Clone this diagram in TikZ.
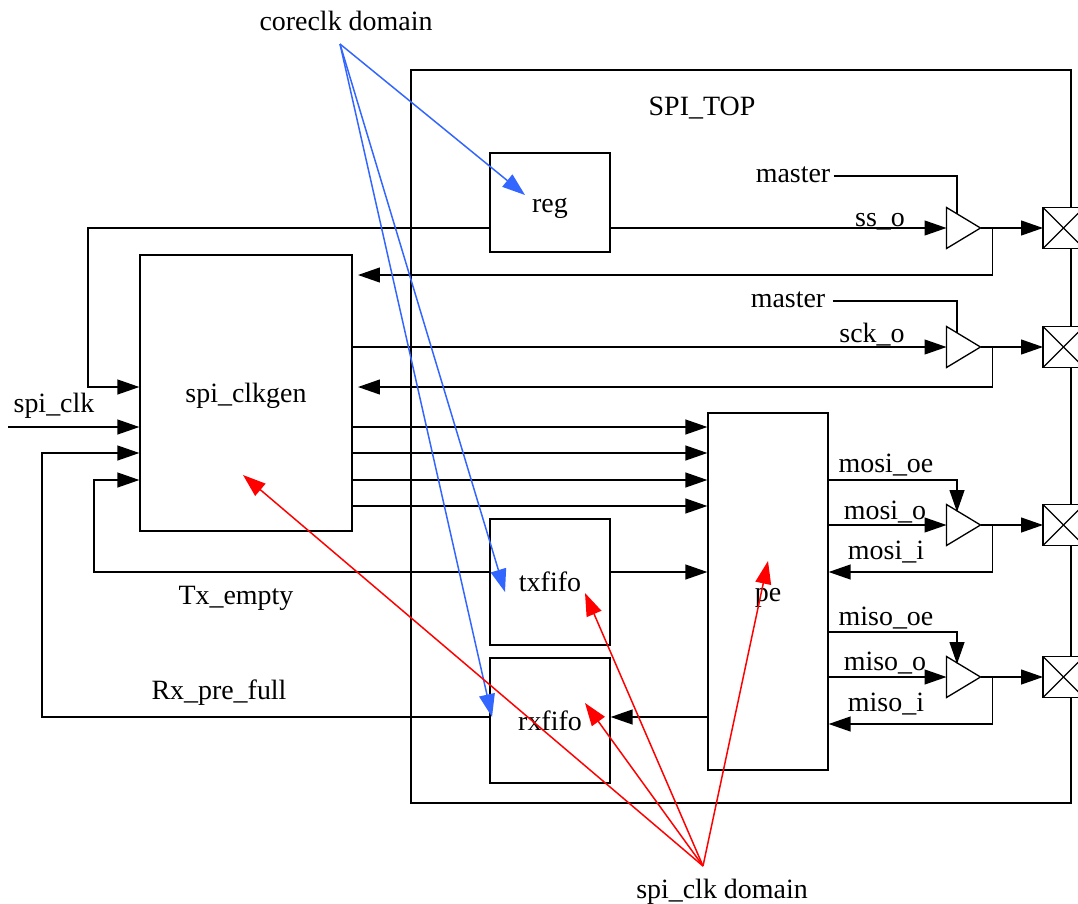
\documentclass[tikz,border=0pt]{standalone}
\usepackage{fontspec}
\setmainfont{Liberation Serif}
\usetikzlibrary{positioning}
\usetikzlibrary{arrows.meta}
\usetikzlibrary{shapes.geometric}

\def\unitpx{0.02cm}

\tikzset{
	blockbox/.style={draw, rectangle, inner sep=0pt, line width=0.75pt, font=\fontsize{15.9}{17}\selectfont, text height=12pt, text depth=0.8pt},
	bufbox/.style={draw, isosceles triangle, isosceles triangle stretches, shape border rotate=0, fill=white, inner sep=0pt, outer sep=0pt, line width=0.75pt, minimum width=41*\unitpx, minimum height=34*\unitpx, anchor=lower side},
	padbox/.style={draw, rectangle, fill=white, inner sep=0pt, outer sep=0pt, line width=0.75pt, minimum size=41*\unitpx, path picture={
		\draw[line width=0.75pt] (path picture bounding box.north west) -- (path picture bounding box.south east);
		\draw[line width=0.75pt] (path picture bounding box.south west) -- (path picture bounding box.north east);}},
	lbl/.style={font=\fontsize{15.9}{17}\selectfont, inner sep=0pt, text height=12pt, text depth=0.8pt},
	wire/.style={line width=0.75pt},
	sig/.style={line width=0.75pt, -{Triangle[length=12.5pt, width=8.5pt]}},
	coreclkline/.style={line width=0.85pt, color=coreblue, -{Triangle[length=13pt, width=9pt]}},
	spiclkline/.style={line width=0.85pt, color=red, -{Triangle[length=13pt, width=9pt]}}
}
\definecolor{coreblue}{HTML}{3366FF}

\begin{document}
\begin{tikzpicture}[x=0.02cm, y=-0.02cm]
	\useasboundingbox (0, 0) rectangle (1078, 903);
	\clip (0, 0) rectangle (1078, 903);

	\node[blockbox, minimum width=660*\unitpx, minimum height=733*\unitpx] (spitop) at (741, 436.5) {};
	\node[blockbox, minimum width=120*\unitpx, minimum height=99*\unitpx] (reg) at (550, 202.5) {reg};
	\node[blockbox, minimum width=212*\unitpx, minimum height=276*\unitpx] (clkgen) at (246, 393) {spi\_clkgen};
	\node[blockbox, minimum width=120*\unitpx, minimum height=357*\unitpx] (pe) at (768, 591.5) {pe};
	\node[blockbox, minimum width=120*\unitpx, minimum height=126*\unitpx] (txfifo) at (550, 582) {txfifo};
	\node[blockbox, minimum width=120*\unitpx, minimum height=125*\unitpx] (rxfifo) at (550, 720.5) {rxfifo};

	\node[bufbox] (ssbuf) at (946.5, 228) {};
	\node[bufbox] (sckbuf) at (946.5, 347) {};
	\node[bufbox] (mosibuf) at (946.5, 525) {};
	\node[bufbox] (misobuf) at (946.5, 677) {};

	\node[padbox] (sspad) at (1063.5, 228) {};
	\node[padbox] (sckpad) at (1063.5, 347) {};
	\node[padbox] (mosipad) at (1063.5, 525) {};
	\node[padbox] (misopad) at (1063.5, 677) {};

	\node[lbl] (sptitle) at (702, 106) {SPI\_TOP};
	\node[lbl] (ssmaster) at (793, 173) {master};
	\node[lbl] (sckmaster) at (788, 298) {master};
	\node[lbl] (sslbl) at (880, 217) {ss\_o};
	\node[lbl] (scklbl) at (872, 333) {sck\_o};
	\node[lbl] (clklbl) at (54, 403) {spi\_clk};
	\node[lbl] (txlbl) at (236, 595) {Tx\_empty};
	\node[lbl] (rxlbl) at (219, 690) {Rx\_pre\_full};
	\node[lbl] (mosioelbl) at (886, 463) {mosi\_oe};
	\node[lbl] (mosiolbl) at (885, 510) {mosi\_o};
	\node[lbl] (mosiilbl) at (886, 550) {mosi\_i};
	\node[lbl] (misooelbl) at (886, 616) {miso\_oe};
	\node[lbl] (misoolbl) at (885, 661) {miso\_o};
	\node[lbl] (misoilbl) at (886, 702) {miso\_i};
	\node[lbl] (corelbl) at (346, 21) {coreclk domain};
	\node[lbl] (spilbl) at (722, 889) {spi\_clk domain};

	\coordinate (clkin) at (8, 427);
	\coordinate (ssbend) at (88, 228);
	\coordinate (rxbend) at (42, 453);
	\coordinate (txbend) at (94, 480);
	\coordinate (ssback) at (992.5, 275);
	\coordinate (sckback) at (992.5, 387);
	\coordinate (mosiback) at (992.5, 572);
	\coordinate (misoback) at (992.5, 724);
	\coordinate (sstop) at (957, 176);
	\coordinate (scktop) at (957, 301);
	\coordinate (mositop) at (957, 480);
	\coordinate (misotop) at (957, 632);
	\coordinate (corefrom) at (340, 44);
	\coordinate (spifrom) at (703, 866);
	\coordinate (coretoreg) at (525, 195);
	\coordinate (coretotx) at (505, 592);
	\coordinate (coretorx) at (492, 717);
	\coordinate (spitoclk) at (243, 475);
	\coordinate (spitotx) at (585, 593);
	\coordinate (spitorx) at (585, 703);
	\coordinate (spitope) at (768, 561);

	\draw[sig] (reg.east |- ssbuf.west) -- (ssbuf.west);
	\draw[sig] (clkgen.east |- sckbuf.west) -- (sckbuf.west);
	\draw[sig] (ssbuf.east) -- (sspad.west);
	\draw[sig] (sckbuf.east) -- (sckpad.west);
	\draw[sig] (mosibuf.east) -- (mosipad.west);
	\draw[sig] (misobuf.east) -- (misopad.west);
	\draw[sig] (pe.east |- mosibuf.west) -- (mosibuf.west);
	\draw[sig] (pe.east |- misobuf.west) -- (misobuf.west);

	\draw[wire] (ssmaster.east) ++(3, 3) -- (sstop) -- (957, 214);
	\draw[wire] (sckmaster.east) ++(7, 3) -- (scktop) -- (957, 333);
	\draw[sig] (pe.east |- mositop) -- (mositop) -- (957, 512);
	\draw[sig] (pe.east |- misotop) -- (misotop) -- (957, 664);

	\draw[sig] (ssback |- ssbuf.east) -- (ssback) -- (358, 275);
	\draw[sig] (sckback |- sckbuf.east) -- (sckback) -- (358, 387);
	\draw[sig] (mosiback |- mosibuf.east) -- (mosiback) -- (pe.east |- mosiback);
	\draw[sig] (misoback |- misobuf.east) -- (misoback) -- (pe.east |- misoback);

	\draw[sig] (reg.west |- ssbend) -- (ssbend) -- (88, 387) -- (clkgen.west |- 0, 387);
	\draw[sig] (clkin) -- (clkgen.west |- clkin);
	\draw[sig] (rxfifo.west |- 0, 717) -- (42, 717) -- (rxbend) -- (clkgen.west |- rxbend);
	\draw[sig] (txfifo.west |- 0, 572) -- (94, 572) -- (txbend) -- (clkgen.west |- txbend);

	\foreach \rowy in {427, 453, 480, 506}
		\draw[sig] (clkgen.east |- 0, \rowy) -- (pe.west |- 0, \rowy);
	\draw[sig] (txfifo.east |- 0, 572) -- (pe.west |- 0, 572);
	\draw[sig] (pe.west |- 0, 717) -- (rxfifo.east |- 0, 717);

	\draw[coreclkline] (corefrom) -- (coretoreg);
	\draw[coreclkline] (corefrom) -- (coretotx);
	\draw[coreclkline] (corefrom) -- (coretorx);

	\draw[spiclkline] (spifrom) -- (spitoclk);
	\draw[spiclkline] (spifrom) -- (spitotx);
	\draw[spiclkline] (spifrom) -- (spitorx);
	\draw[spiclkline] (spifrom) -- (spitope);

\end{tikzpicture}
\end{document}
